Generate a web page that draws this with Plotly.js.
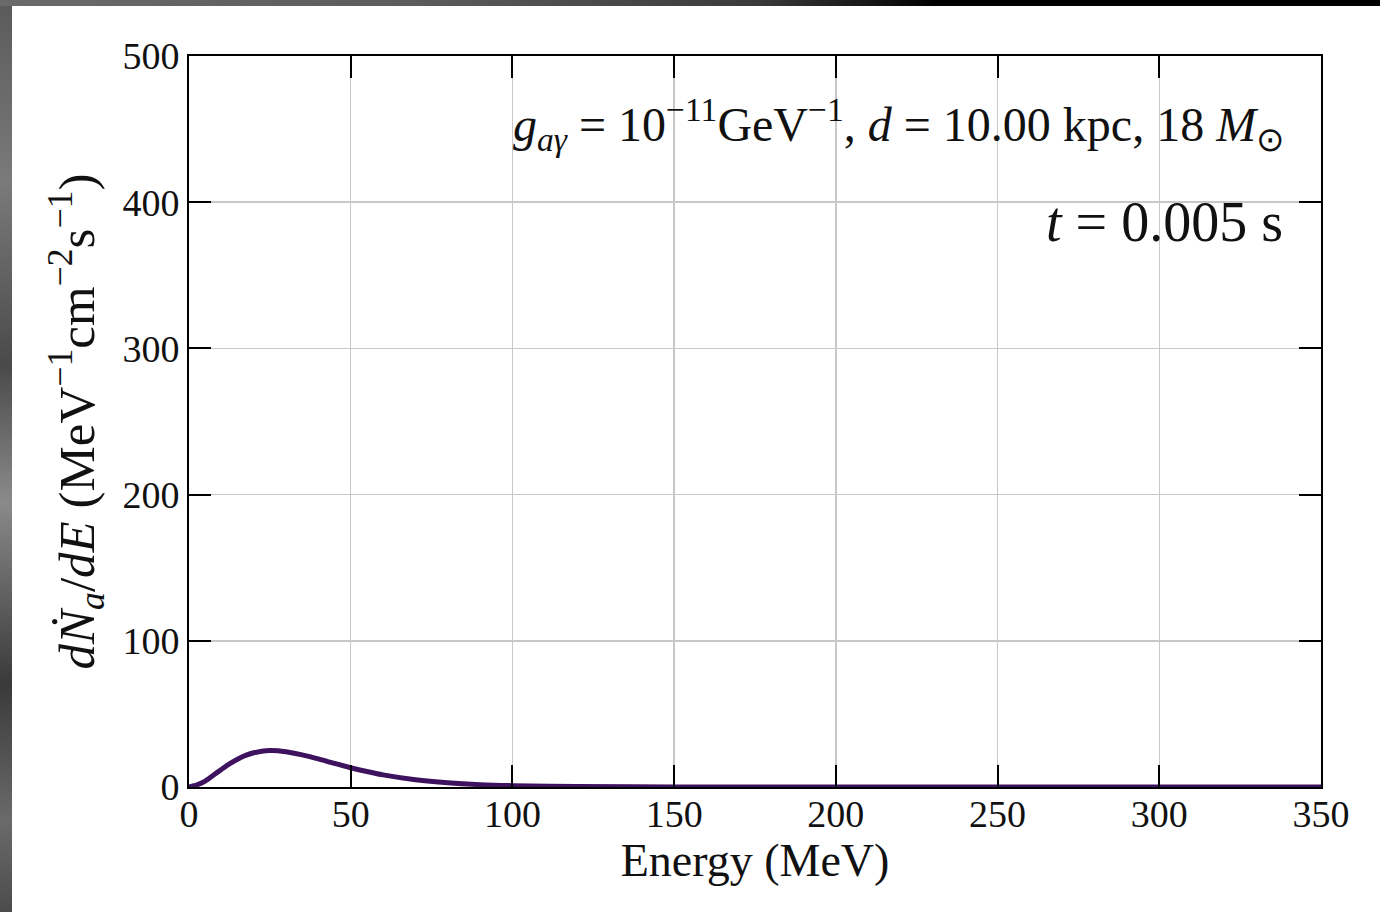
<!DOCTYPE html>
<html>
<head>
<meta charset="utf-8">
<script src="https://cdn.plot.ly/plotly-3.0.1.min.js"></script>
<style>
  html, body { margin: 0; padding: 0; width: 1380px; height: 912px; overflow: hidden; }
  body {
    position: relative;
    background: linear-gradient(180deg, #5a5a5a 0%, #7a7a7a 20%, #4a4a4a 40%, #8a8a8a 55%, #3a3a3a 75%, #6a6a6a 90%, #4c4c4c 100%);
  }
  #topband {
    position: absolute; left: 0; top: 0; width: 1380px; height: 6px;
    background: linear-gradient(90deg, #6a6a6a 0%, #5c5c5c 30%, #3a3a3a 55%, #000 68%, #000 100%);
  }
  #chart { position: absolute; left: 12px; top: 6px; width: 1368px; height: 906px; background: #fff; }
</style>
</head>
<body>
<div id="topband"></div>
<div id="chart"></div>
<script>
// Axion-photon spectrum at t = 0.005 s
const energyMeV = [0, 2.5, 5, 7.5, 10, 12.5, 15, 17.5, 20, 22.5, 25, 27.5, 30, 35, 40, 45, 50, 55, 60, 70, 80, 90, 100, 120, 150, 200, 250, 300, 350];
const fluxRate  = [0, 1.5, 4, 8, 12, 15.8, 19, 21.6, 23.4, 24.5, 25, 24.8, 24.1, 22, 19.2, 16.1, 13.2, 10.6, 8.3, 5, 2.9, 1.6, 0.9, 0.3, 0.05, 0, 0, 0, 0];

const xTickVals = [0, 50, 100, 150, 200, 250, 300, 350];
const yTickVals = [0, 100, 200, 300, 400, 500];

const serif = 'Liberation Serif, Times New Roman, serif';

const axisCommon = {
  showline: true, linecolor: '#000', linewidth: 2, mirror: 'ticks',
  ticks: 'inside', ticklen: 22, tickwidth: 2, tickcolor: '#000',
  showgrid: true, gridcolor: '#c8c8c8', gridwidth: 1.5,
  zeroline: false,
  tickfont: { family: serif, size: 38, color: '#111' }
};

const trace = {
  x: energyMeV, y: fluxRate, type: 'scatter', mode: 'lines',
  line: { color: '#3f1260', width: 5, shape: 'spline', smoothing: 0.8 },
  hoverinfo: 'skip'
};

const layout = {
  width: 1368, height: 906,
  margin: { l: 177, r: 59, t: 50, b: 125 },
  paper_bgcolor: '#fff', plot_bgcolor: '#fff',
  showlegend: false,
  font: { family: serif, color: '#111' },
  xaxis: Object.assign({}, axisCommon, {
    range: [0, 350], tickvals: xTickVals, ticklabelstandoff: -8,
    title: { text: 'Energy (MeV)', font: { family: serif, size: 46, color: '#111' }, standoff: 10 }
  }),
  yaxis: Object.assign({}, axisCommon, {
    range: [0, 500], tickvals: yTickVals, ticklabelstandoff: 0,
    title: { text: '<i>d</i><i>Ṅ</i><sub><i>a</i></sub>/<i>dE</i> (MeV<sup>−1</sup>cm<sup>−2</sup>s<sup>−1</sup>)',
             font: { family: serif, size: 51, color: '#111' }, standoff: 12 }
  }),
  annotations: [
    {
      xref: 'paper', yref: 'paper', x: 0.969, y: 0.906, xanchor: 'right', yanchor: 'middle',
      showarrow: false,
      text: '<i>g</i><sub><i>aγ</i></sub> = 10<sup>−11</sup>GeV<sup>−1</sup>, <i>d</i> = 10.00 kpc, 18 <i>M</i><sub>⊙</sub>',
      font: { family: serif, size: 48, color: '#111' }
    },
    {
      xref: 'paper', yref: 'paper', x: 0.968, y: 0.773, xanchor: 'right', yanchor: 'middle',
      showarrow: false,
      text: '<i>t</i> = 0.005 s',
      font: { family: serif, size: 56, color: '#111' }
    }
  ]
};

Plotly.newPlot('chart', [trace], layout, { displayModeBar: false, staticPlot: true });
</script>
</body>
</html>
